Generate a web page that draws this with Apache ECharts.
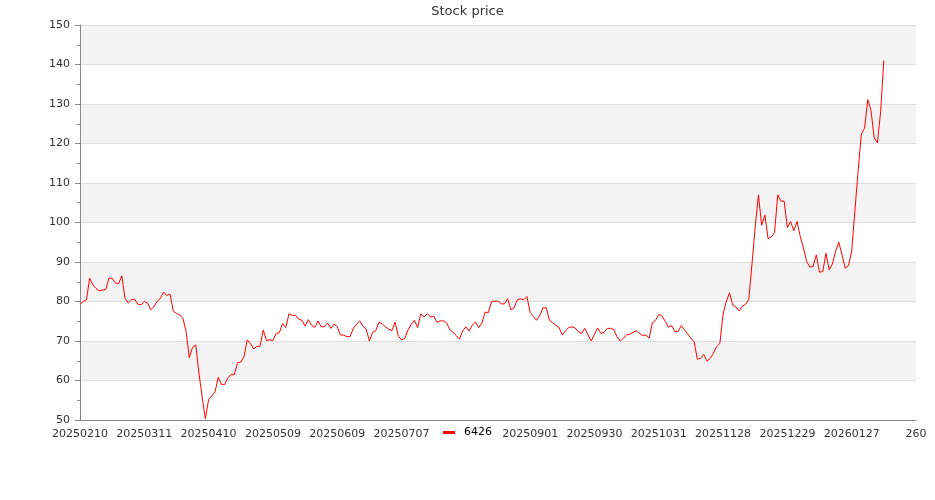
<!DOCTYPE html>
<html>
<head>
<meta charset="utf-8">
<script src="https://cdn.jsdelivr.net/npm/echarts@6/dist/echarts.min.js"></script>
<style>
html,body{margin:0;padding:0;background:#fff;}
#chart{width:935px;height:500px;}
</style>
</head>
<body>
<div id="chart"></div>
<script>
// trading dates (categories)
const dates = [
'20250210','20250211','20250212','20250213','20250214','20250217','20250218','20250219','20250220','20250221','20250224','20250225','20250226','20250227',
'20250303','20250304','20250305','20250306','20250307','20250310','20250311','20250312','20250313','20250314','20250317','20250318','20250319','20250320','20250321','20250324','20250325','20250326','20250327','20250328','20250331',
'20250401','20250402','20250407','20250408','20250409','20250410','20250411','20250414','20250415','20250416','20250417','20250418','20250421','20250422','20250423','20250424','20250425','20250428','20250429','20250430',
'20250502','20250505','20250506','20250507','20250508','20250509','20250512','20250513','20250514','20250515','20250516','20250519','20250520','20250521','20250522','20250523','20250526','20250527','20250528','20250529',
'20250602','20250603','20250604','20250605','20250606','20250609','20250610','20250611','20250612','20250613','20250616','20250617','20250618','20250619','20250620','20250623','20250624','20250625','20250626','20250627','20250630',
'20250701','20250702','20250703','20250704','20250707','20250708','20250709','20250710','20250711','20250714','20250715','20250716','20250717','20250718','20250721','20250722','20250723','20250724','20250725','20250728','20250729','20250730','20250731',
'20250801','20250804','20250805','20250806','20250807','20250808','20250811','20250812','20250813','20250814','20250815','20250818','20250819','20250820','20250821','20250822','20250825','20250826','20250827','20250828','20250829',
'20250901','20250902','20250903','20250904','20250905','20250908','20250909','20250910','20250911','20250912','20250915','20250916','20250917','20250918','20250919','20250922','20250923','20250924','20250925','20250926','20250930',
'20251001','20251002','20251003','20251007','20251008','20251009','20251013','20251014','20251015','20251016','20251017','20251020','20251021','20251022','20251023','20251027','20251028','20251029','20251030','20251031',
'20251103','20251104','20251105','20251106','20251107','20251110','20251111','20251112','20251113','20251114','20251117','20251118','20251119','20251120','20251121','20251124','20251125','20251126','20251127','20251128',
'20251201','20251202','20251203','20251204','20251205','20251208','20251209','20251210','20251211','20251212','20251215','20251216','20251217','20251218','20251219','20251222','20251223','20251224','20251226','20251229','20251230','20251231',
'20260102','20260105','20260106','20260107','20260108','20260109','20260112','20260113','20260114','20260115','20260116','20260119','20260120','20260121','20260122','20260123','20260126','20260127','20260128','20260129','20260130',
'20260202','20260203','20260204','20260205','20260206','20260209','20260210'
];
// trailing categories without data (shown as index numbers)
const padCategories = ['251','252','253','254','255','256','257','258','259','260'];

// closing prices, series "6426"
const prices = [
79.3,80.0,80.4,85.9,84.2,83.3,82.7,82.9,83.0,85.9,85.9,84.7,84.5,86.5,
80.8,79.6,80.4,80.6,79.3,79.2,80.0,79.6,77.9,78.7,80.0,80.8,82.4,81.5,81.9,77.6,77.0,76.6,75.8,72.4,65.8,
68.4,69.0,61.8,55.8,50.3,55.2,56.1,57.1,60.8,59.0,59.0,60.7,61.5,61.5,64.5,64.7,66.0,70.3,69.4,68.0,
68.6,68.7,72.8,70.1,70.3,70.1,71.9,72.1,74.4,73.4,76.9,76.5,76.5,75.5,75.25,73.75,75.4,74.0,73.4,75.1,
73.6,73.6,74.6,73.2,74.3,73.6,71.5,71.5,71.1,71.1,73.2,74.2,75.1,73.75,73.0,70.0,72.2,72.6,74.8,74.3,73.6,
73.0,72.6,74.8,71.25,70.25,70.7,72.75,74.2,75.25,73.4,76.9,76.1,76.9,76.1,76.3,74.7,75.1,75.1,74.6,72.9,72.2,71.4,70.5,
72.5,73.6,72.5,74.0,74.8,73.4,74.6,77.3,77.2,80.0,80.1,80.1,79.4,79.4,80.7,77.9,78.4,80.4,80.7,80.4,81.25,
77.2,76.25,75.25,76.5,78.4,78.4,75.25,74.6,74.0,73.4,71.5,72.6,73.4,73.6,73.3,72.3,71.9,73.2,71.5,70.0,71.75,
73.3,71.9,72.2,73.2,73.2,72.9,71.1,70.0,70.7,71.5,71.75,72.2,72.6,71.9,71.4,71.5,70.7,74.6,75.25,76.75,
76.3,75.0,73.5,73.9,72.4,72.4,73.9,72.8,71.8,70.7,69.8,65.4,65.6,66.6,64.9,65.6,66.9,68.6,69.4,76.8,
80.0,82.2,79.1,78.6,77.6,78.8,79.3,80.5,89.6,98.9,107.0,99.3,101.9,95.9,96.4,97.4,107.0,105.4,105.4,98.7,100.25,97.9,
100.25,96.5,93.5,90.1,88.7,88.9,91.8,87.4,87.6,92.2,88.0,89.5,92.7,95.0,91.8,88.4,89.1,92.7,103.0,113.0,122.4,
123.9,131.1,128.4,121.4,120.2,128.1,141.0
];

const seriesName = '6426';
const titleText = 'Stock price';
const yMin = 50, yMax = 150, yStep = 10;

const chart = echarts.init(document.getElementById('chart'), null, {renderer: 'canvas'});
const font = 'DejaVu Sans';
chart.setOption({
  animation: false,
  backgroundColor: '#ffffff',
  title: {
    text: titleText,
    left: 'center',
    top: 0,
    padding: 5,
    textStyle: {fontFamily: font, fontSize: 13, fontWeight: 'normal', color: '#333'}
  },
  legend: {
    data: [seriesName],
    top: 424,
    left: 'center',
    padding: [3, 6, 3, 6],
    backgroundColor: '#ffffff',
    icon: 'rect',
    itemWidth: 12,
    itemHeight: 3,
    textStyle: {fontFamily: font, fontSize: 11, color: '#000', padding: [0, 0, 0, 4]}
  },
  grid: {left: 80, right: 19, top: 25, bottom: 80, containLabel: false},
  xAxis: {
    type: 'category',
    data: dates.concat(padCategories),
    boundaryGap: false,
    axisLine: {show: true, lineStyle: {color: '#888', width: 1}},
    axisTick: {show: false},
    axisLabel: {interval: 19, fontFamily: font, fontSize: 11, color: '#333', margin: 9},
    splitLine: {show: false}
  },
  yAxis: {
    type: 'value',
    min: yMin,
    max: yMax,
    interval: yStep,
    axisLine: {show: true, lineStyle: {color: '#888', width: 1}},
    axisTick: {show: true, length: 5, lineStyle: {color: '#888'}},
    minorTick: {show: true, splitNumber: 2, length: 3, lineStyle: {color: '#888'}},
    axisLabel: {fontFamily: font, fontSize: 11, color: '#333', margin: 10},
    splitLine: {show: true, lineStyle: {color: '#dddddd', width: 1}},
    splitArea: {show: true, areaStyle: {color: ['#ffffff', '#f3f3f3']}}
  },
  series: [{
    name: seriesName,
    type: 'line',
    data: prices,
    showSymbol: false,
    symbol: 'none',
    lineStyle: {color: '#ff0000', width: 1},
    itemStyle: {color: '#ff0000'}
  }]
});
</script>
</body>
</html>
